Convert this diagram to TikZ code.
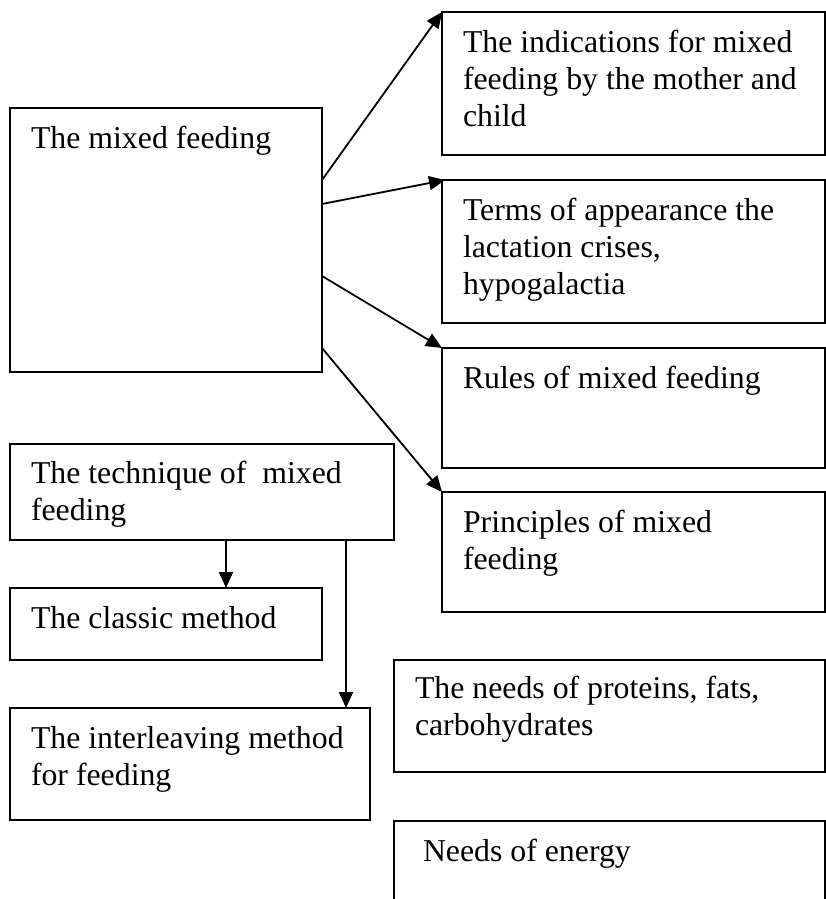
\documentclass[tikz,border=0pt]{standalone}
\usepackage{fontspec}
\setmainfont{Liberation Serif}
\usetikzlibrary{arrows.meta}
\tikzset{
  box/.style={draw, line width=1.6pt, rectangle, anchor=north west, inner sep=0pt, outer sep=0pt},
  txt/.style={anchor=base west, inner sep=0pt, outer sep=0pt, align=left, font=\fontsize{31.8}{37}\selectfont},
  conn/.style={line width=1.8pt, -{Triangle[length=16pt,width=14pt]}}
}
\begin{document}
\begin{tikzpicture}[x=1pt,y=-1pt]
\useasboundingbox (0,0) rectangle (826,899);
\clip (0,0) rectangle (826,899);
\node[box, minimum width=312pt, minimum height=264pt] (main) at (10,108) {};
\node[box, minimum width=383pt, minimum height=143pt] (b1) at (442,12) {};
\node[box, minimum width=383pt, minimum height=143pt] (b2) at (442,180) {};
\node[box, minimum width=383pt, minimum height=120pt] (b3) at (442,348) {};
\node[box, minimum width=383pt, minimum height=120pt] (b4) at (442,492) {};
\node[box, minimum width=431pt, minimum height=112pt] (b5) at (394,660) {};
\node[box, minimum width=431pt, minimum height=110pt] (b6) at (394,821) {};
\node[box, minimum width=384pt, minimum height=96pt] (tech) at (10,444) {};
\node[box, minimum width=312pt, minimum height=72pt] (classic) at (10,588) {};
\node[box, minimum width=360pt, minimum height=112pt] (inter) at (10,708) {};

\node[txt] (tmain) at ([shift={(21,40)}]main.north west) {The mixed feeding};
\node[txt] (t1) at ([shift={(21,114)}]b1.north west) {The indications for mixed\\feeding by the mother and\\child};
\node[txt] (t2) at ([shift={(21,114)}]b2.north west) {Terms of appearance the\\lactation crises,\\hypogalactia};
\node[txt] (t3) at ([shift={(21,40)}]b3.north west) {Rules of mixed feeding};
\node[txt] (t4) at ([shift={(21,77)}]b4.north west) {Principles of mixed\\feeding};
\node[txt] (t5) at ([shift={(21,75)}]b5.north west) {The needs of proteins, fats,\\carbohydrates};
\node[txt] (t6) at ([shift={(29,40)}]b6.north west) {Needs of energy};
\node[txt] (ttech) at ([shift={(21,76)}]tech.north west) {The technique of~ mixed\\feeding};
\node[txt] (tclassic) at ([shift={(21,40)}]classic.north west) {The classic method};
\node[txt] (tinter) at ([shift={(21,77)}]inter.north west) {The interleaving method\\for feeding};

\draw[conn] ([yshift=-72]main.north east) -- (b1.north west);
\draw[conn] ([yshift=-96]main.north east) -- ([xshift=3]b2.north west);
\draw[conn] ([yshift=-168]main.north east) -- (b3.north west);
\draw[conn] ([yshift=24]main.south east) -- (b4.north west);
\draw[conn] ([xshift=216]tech.south west) -- ([xshift=216]classic.north west);
\draw[conn] ([xshift=336]tech.south west) -- ([xshift=336]inter.north west);
\end{tikzpicture}
\end{document}
